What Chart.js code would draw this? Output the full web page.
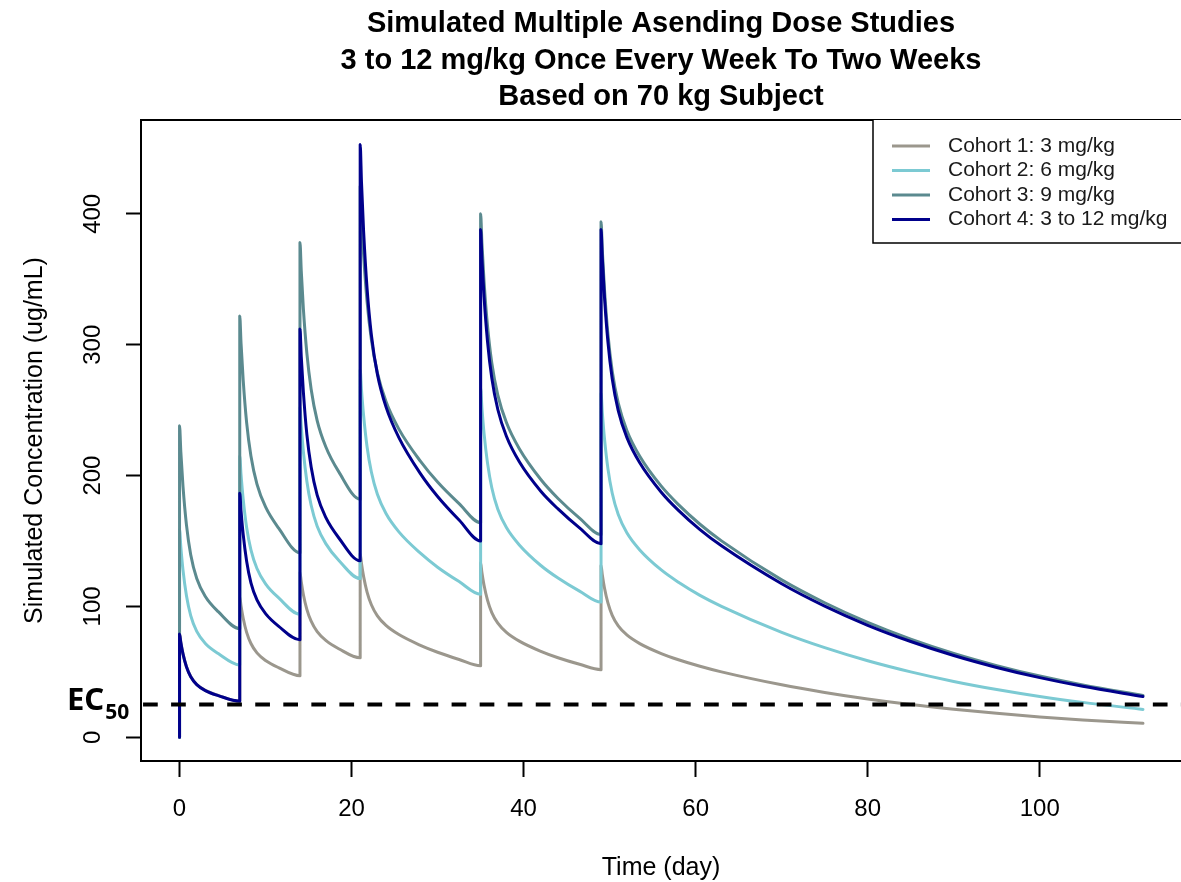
<!DOCTYPE html>
<html>
<head>
<meta charset="utf-8">
<title>Simulated Multiple Asending Dose Studies</title>
<script src="https://cdn.jsdelivr.net/npm/chart.js@4.4.1/dist/chart.umd.min.js"></script>
<style>
  html, body { margin: 0; padding: 0; background: #fff; }
  #wrap { width: 1181px; height: 882px; }
</style>
</head>
<body>
<div id="wrap"><canvas id="pk" width="1181" height="882"></canvas></div>
<script>
// time points (day); a dose day appears twice: trough, then peak
const days = [
  0, 0, 0.15, 0.4, 0.8, 1.3, 2, 3, 4.5, 7,
  7, 7.15, 7.4, 7.8, 8.3, 9, 10, 11.5, 14,
  14, 14.15, 14.4, 14.8, 15.3, 16, 17, 18.5, 21,
  21, 21.15, 21.4, 21.8, 22.3, 23, 24, 25.5, 28, 30, 32.5, 35,
  35, 35.15, 35.4, 35.8, 36.3, 37, 38, 39.5, 42, 44, 46.5, 49,
  49, 49.15, 49.4, 49.8, 50.3, 51, 52, 53.5, 56, 58, 60.5, 63, 70, 75, 80, 85, 90, 95, 100, 105, 112,
];

// concentrations (ug/mL)
const cohort1 = [
  0, 79.3, 72.7, 64, 54.2, 46.5, 40.4, 35.9, 32, 27.7,
  107.3, 100.3, 91, 80.2, 71.7, 64.5, 58.7, 53.3, 47,
  126, 118.8, 109, 97.8, 88.7, 80.7, 74, 67.7, 60.7,
  140.3, 132.8, 122.8, 111, 101.3, 92.8, 85.5, 78.5, 70.3, 65, 59.5, 54.7,
  133.3, 126, 116.2, 104.8, 95.3, 87.2, 80.2, 73.5, 65.7, 60.8, 55.8, 51.7,
  131.3, 124, 114.1, 102.7, 93.2, 85.1, 78.2, 71.6, 64, 59.3, 54.3, 50, 40.1, 34.3, 29.3, 25, 21.4, 18.3, 15.6, 13.3, 10.7,
];
const cohort2 = [
  0, 158.7, 145.5, 127.9, 108.3, 93, 80.9, 71.7, 64, 55.3,
  214.7, 200.7, 182, 160.3, 143.3, 129, 117.3, 106.7, 94,
  252, 237.7, 218, 195.7, 177.3, 161.3, 148, 135.3, 121.3,
  280.7, 265.7, 245.7, 222, 202.7, 185.7, 171, 157, 140.7, 130, 119, 109.3,
  266.7, 252, 232.3, 209.7, 190.7, 174.3, 160.3, 147, 131.3, 121.7, 111.7, 103.3,
  262.7, 248, 228.2, 205.3, 186.5, 170.2, 156.3, 143.2, 127.9, 118.5, 108.5, 100.1, 80.2, 68.5, 58.5, 50, 42.7, 36.5, 31.2, 26.7, 21.3,
];
const cohort3 = [
  0, 238, 218.2, 191.9, 162.5, 139.5, 121.3, 107.6, 96, 83,
  322, 301, 273, 240.5, 215, 193.5, 176, 160, 141,
  378, 356.5, 327, 293.5, 266, 242, 222, 203, 182,
  421, 398.5, 368.5, 333, 304, 278.5, 256.5, 235.5, 211, 195, 178.5, 164,
  400, 378, 348.5, 314.5, 286, 261.5, 240.5, 220.5, 197, 182.5, 167.5, 155,
  394, 372, 342.3, 308, 279.7, 255.3, 234.5, 214.8, 191.9, 177.8, 162.8, 150.1, 120.3, 102.8, 87.8, 75, 64.1, 54.8, 46.8, 40, 32,
];
const cohort4 = [
  0, 79, 72.4, 63.7, 53.9, 46.3, 40.3, 35.7, 31.9, 27.6,
  186.5, 173, 155, 134.5, 118, 105, 94.5, 85, 74.5,
  312, 291, 263.5, 231.5, 206.5, 185, 168, 152.5, 135,
  453, 424.5, 386.5, 343, 307.5, 277.5, 252.5, 229, 201.5, 184, 166, 150,
  388, 366, 336.5, 302.5, 274.5, 250.5, 230, 210.5, 188, 174.5, 160, 148,
  388, 366, 336.4, 302.1, 274, 249.7, 229.2, 209.8, 187.3, 173.4, 158.7, 146.3, 117.3, 100.2, 85.6, 73.2, 62.5, 53.4, 45.6, 39, 31.2,
];

const cohortLabels = ["Cohort 1: 3 mg/kg", "Cohort 2: 6 mg/kg", "Cohort 3: 9 mg/kg", "Cohort 4: 3 to 12 mg/kg"];
const cohortColors = ["#9b978d", "#7ccad3", "#5b8a8f", "#00008b"];

// EC50 reference line
const ec50Days = [-4.48, 116.42];
const ec50Value = 25;

// tick labels
const xTicks = [0, 20, 40, 60, 80, 100];
const yTicks = [0, 100, 200, 300, 400];

const titleLines = [
  "Simulated Multiple Asending Dose Studies",
  "3 to 12 mg/kg Once Every Week To Two Weeks",
  "Based on 70 kg Subject",
];

const FONT = "'Liberation Sans', Arial, Helvetica, sans-serif";

function toPoints(xs, ys) {
  return xs.map((x, i) => ({ x: x, y: ys[i] }));
}

// box, rotated y labels, EC50 label, legend, title
const framePlugin = {
  id: "frame",
  afterDraw(chart) {
    const { ctx, chartArea: a } = chart;
    const yScale = chart.scales.y;
    ctx.save();

    // plot box (right side falls off the picture)
    ctx.strokeStyle = "#000";
    ctx.lineWidth = 2;
    ctx.beginPath();
    ctx.moveTo(a.right + 2, a.top);
    ctx.lineTo(a.left, a.top);
    ctx.lineTo(a.left, a.bottom);
    ctx.lineTo(a.right + 2, a.bottom);
    ctx.stroke();

    // y tick labels, rotated like R's las=0
    ctx.fillStyle = "#000";
    ctx.font = `24px ${FONT}`;
    ctx.textAlign = "center";
    ctx.textBaseline = "middle";
    yScale.ticks.forEach((t) => {
      const py = yScale.getPixelForValue(t.value);
      ctx.save();
      ctx.translate(93, py);
      ctx.rotate(-Math.PI / 2);
      ctx.fillText(String(t.value), 0, 0);
      ctx.restore();
    });

    // EC50 label
    const ecY = yScale.getPixelForValue(ec50Value);
    ctx.textAlign = "left";
    ctx.textBaseline = "alphabetic";
    ctx.font = "bold 31px 'Noto Sans', 'Open Sans', sans-serif";
    ctx.fillText("EC", 67, ecY + 5);
    const ecW = ctx.measureText("EC").width;
    ctx.font = "bold 21px 'Noto Sans', 'Open Sans', sans-serif";
    ctx.fillText("50", 67 + ecW + 1, ecY + 14);

    // legend (top right, inset 0)
    const lx = 873, ly = a.top, lh = 123;
    ctx.fillStyle = "#fff";
    ctx.fillRect(lx, ly, a.right - lx + 5, lh);
    ctx.strokeStyle = "#000";
    ctx.lineWidth = 1.5;
    ctx.beginPath();
    ctx.moveTo(a.right + 2, ly + lh);
    ctx.lineTo(lx, ly + lh);
    ctx.lineTo(lx, ly);
    ctx.stroke();
    ctx.font = `21px ${FONT}`;
    ctx.textBaseline = "middle";
    cohortLabels.forEach((label, i) => {
      const y = ly + 26 + i * 24.5;
      ctx.strokeStyle = cohortColors[i];
      ctx.lineWidth = 3;
      ctx.beginPath();
      ctx.moveTo(892, y);
      ctx.lineTo(930, y);
      ctx.stroke();
      ctx.fillStyle = "#1a1a1a";
      ctx.fillText(label, 948, y);
    });

    // title
    ctx.fillStyle = "#000";
    ctx.font = `bold 29px ${FONT}`;
    ctx.textAlign = "center";
    ctx.textBaseline = "alphabetic";
    titleLines.forEach((line, i) => {
      ctx.fillText(line, 661, 32 + i * 36.5);
    });

    ctx.restore();
  },
};

function pkChart() {
  const datasets = [cohort1, cohort2, cohort3, cohort4].map((vals, i) => ({
    label: cohortLabels[i],
    data: toPoints(days, vals),
    borderColor: cohortColors[i],
    borderWidth: 3,
    borderJoinStyle: "round",
    borderCapStyle: "round",
    pointRadius: 0,
    cubicInterpolationMode: "monotone",
    fill: false,
    order: 3 - i, // cohort 4 on top
  }));
  datasets.push({
    label: "EC50",
    data: toPoints(ec50Days, [ec50Value, ec50Value]),
    borderColor: "#000",
    borderWidth: 4,
    borderDash: [14.7, 13.35],
    borderDashOffset: 26,
    pointRadius: 0,
    tension: 0,
    fill: false,
    order: -1,
  });

  const options = {
    responsive: false,
    animation: false,
    devicePixelRatio: 1,
    layout: { padding: { top: 120, right: 0, left: 0, bottom: 0 } },
    plugins: {
      legend: { display: false },
      title: { display: false },
      tooltip: { enabled: false },
    },
    scales: {
      x: {
        type: "linear",
        min: -4.48,
        max: 116.42,
        afterBuildTicks(scale) {
          scale.ticks = xTicks.map((v) => ({ value: v }));
        },
        afterFit(scale) {
          scale.height = 121;
        },
        grid: { drawOnChartArea: false, drawTicks: true, tickLength: 16, tickColor: "#000", tickWidth: 2 },
        border: { display: false },
        ticks: { color: "#000", font: { family: FONT, size: 24 }, padding: 18, maxRotation: 0, autoSkip: false },
        title: {
          display: true,
          text: "Time (day)",
          color: "#000",
          font: { family: FONT, size: 25, lineHeight: 1 },
          padding: { top: 0, bottom: 1.5 },
        },
      },
      y: {
        type: "linear",
        min: -18.1,
        max: 471.7,
        afterBuildTicks(scale) {
          scale.ticks = yTicks.map((v) => ({ value: v }));
        },
        afterFit(scale) {
          scale.width = 141;
        },
        grid: { drawOnChartArea: false, drawTicks: true, tickLength: 15, tickColor: "#000", tickWidth: 2 },
        border: { display: false },
        ticks: { display: false },
        title: {
          display: true,
          text: "Simulated Concentration (ug/mL)",
          color: "#000",
          font: { family: FONT, size: 25, lineHeight: 1 },
          padding: { top: 23, bottom: 0 },
        },
      },
    },
  };

  new Chart(document.getElementById("pk"), {
    type: "line",
    data: { datasets: datasets },
    options: options,
    plugins: [framePlugin],
  });
}
pkChart();
</script>
</body>
</html>
